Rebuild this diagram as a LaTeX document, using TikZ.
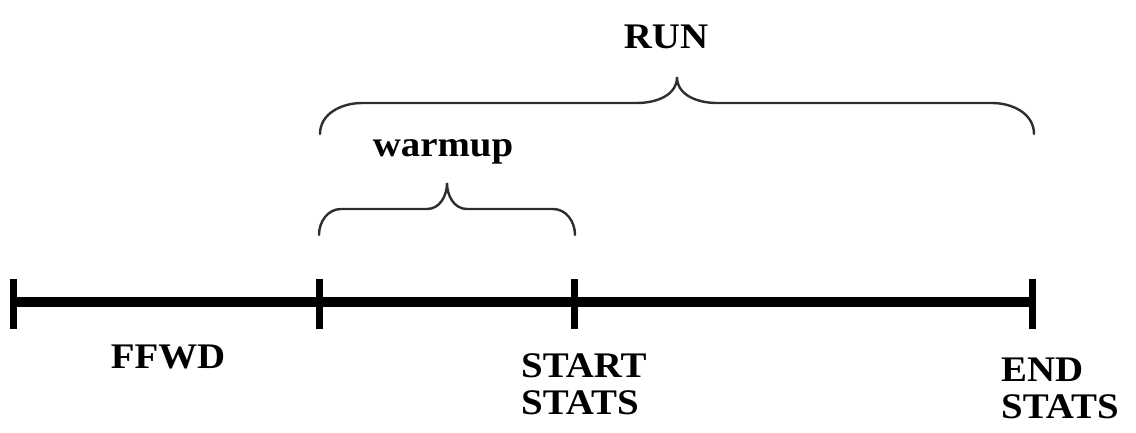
\documentclass[tikz,border=0pt]{standalone}
\usepackage{fontspec}
\setmainfont{Liberation Serif}[FakeStretch=1.08]
\begin{document}
\begin{tikzpicture}[x=1pt,y=-1pt,
  lbl/.style={inner sep=0pt,font=\fontsize{36}{37}\selectfont\bfseries},
  axis/.style={line width=9.5pt},
  tick/.style={line width=7pt},
  brace/.style={line width=2.4pt,draw=black!82,line cap=round}]
\useasboundingbox (0,0) rectangle (1136,432);

% time line with its four marks
\coordinate (t0) at (13.5,302);
\coordinate (t1) at (319,302);
\coordinate (t2) at (574,302);
\coordinate (t3) at (1032,302);
\draw[axis] (t0) -- (t3);
\foreach \t in {t0,t1,t2,t3}
  \draw[tick] ([yshift=-27pt]\t) -- ([yshift=23pt]\t);

% labels under the time line (base anchor sits on the last line)
\node[lbl,anchor=base] (ffwd) at (168,368) {FFWD};
\node[lbl,anchor=base west,align=left] (start) at (521,414) {START\\STATS};
\node[lbl,anchor=base west,align=left] (end) at (1001,418) {END\\STATS};

% warmup brace
\coordinate (wl) at (319,235);
\coordinate (wr) at (575,235);
\coordinate (wt) at (447,183);
\draw[brace] (wl) to[out=90,in=180] (341,209) -- (427,209)
  to[out=0,in=-90] (wt) to[out=-90,in=180] (467,209) -- (553,209)
  to[out=0,in=90] (wr);
\node[lbl,anchor=base] (warm) at (443,156) {warmup};

% run brace
\coordinate (rl) at (320,134);
\coordinate (rr) at (1034,134);
\coordinate (rt) at (677,77);
\draw[brace] (rl) to[out=90,in=180] (362,103) -- (637,103)
  to[out=0,in=-90] (rt) to[out=-90,in=180] (717,103) -- (992,103)
  to[out=0,in=90] (rr);
\node[lbl,anchor=base] (run) at (666,48) {RUN};
\end{tikzpicture}
\end{document}
